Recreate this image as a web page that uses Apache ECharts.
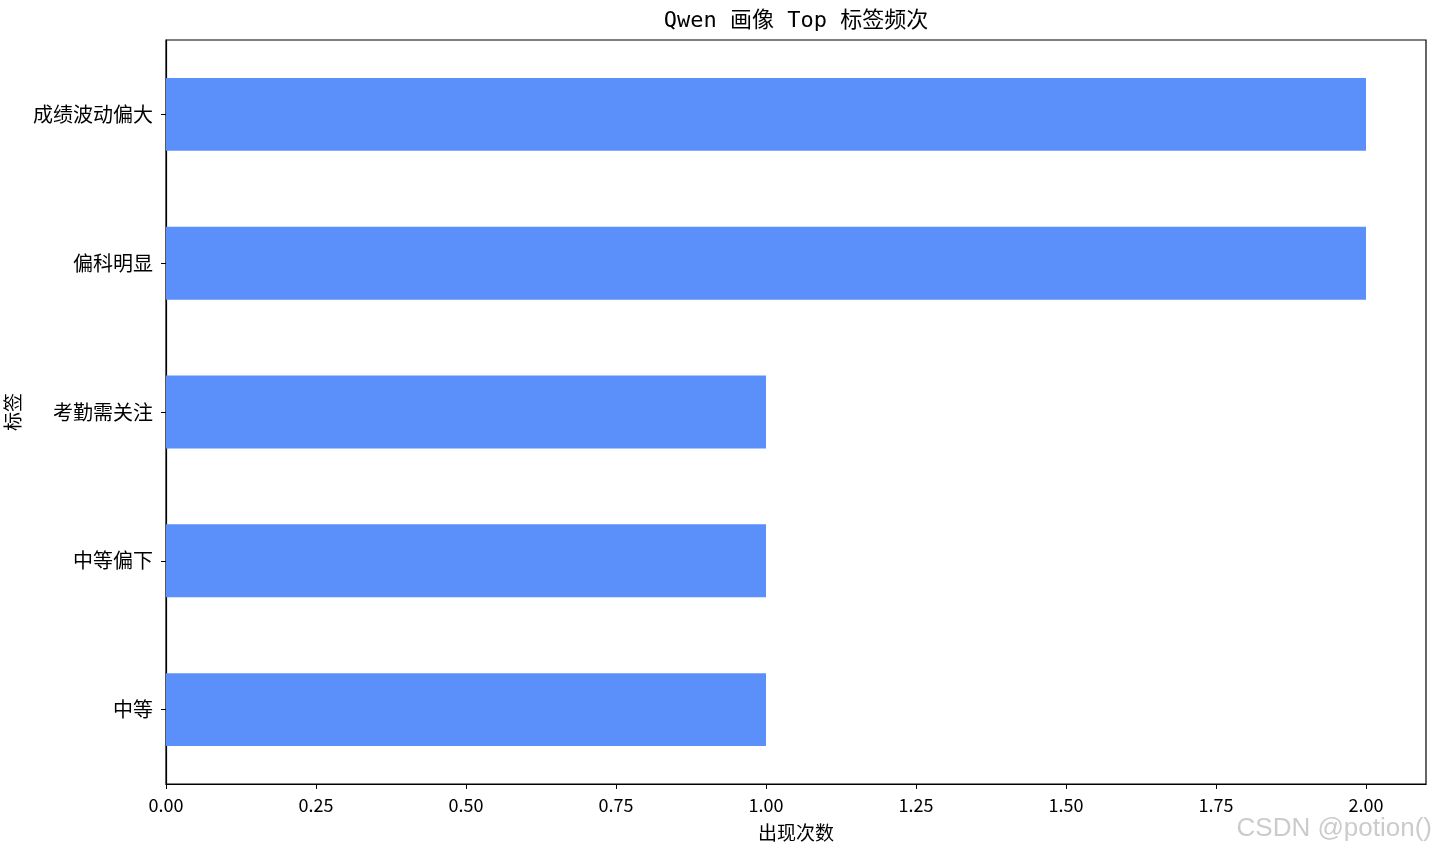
<!DOCTYPE html>
<html>
<head>
<meta charset="utf-8">
<script src="https://cdn.jsdelivr.net/npm/echarts@6/dist/echarts.min.js"></script>
<style>html,body{margin:0;padding:0;background:#fff}#c{width:1435px;height:854px}</style>
</head>
<body>
<div id="c"></div>
<script>
const categories = ['成绩波动偏大', '偏科明显', '考勤需关注', '中等偏下', '中等'];
const counts = [2, 2, 1, 1, 1];
const xTicks = [0, 0.25, 0.5, 0.75, 1.0, 1.25, 1.5, 1.75, 2.0];
const titleText = 'Qwen 画像 Top 标签频次';
const xName = '出现次数';
const yName = '标签';
const watermark = 'CSDN @potion()';

const FONT = "'Noto Sans CJK SC', 'Noto Sans', sans-serif";
const chart = echarts.init(document.getElementById('c'));
chart.setOption({
  animation: false,
  backgroundColor: '#fff',
  title: {
    text: titleText,
    left: 791, top: 5, textAlign: 'center',
    textStyle: { fontFamily: "'DejaVu Sans Mono', 'Noto Sans CJK SC', monospace", fontSize: 22, fontWeight: 'normal', color: '#000' }
  },
  grid: { left: 166, right: 9, top: 40, bottom: 70, show: true, borderColor: '#000', borderWidth: 1.2, containLabel: false, outerBoundsMode: 'none' },
  xAxis: {
    type: 'value', min: 0, max: 2.1, interval: 0.25,
    name: xName, nameLocation: 'middle', nameGap: 39,
    nameTextStyle: { fontFamily: FONT, fontSize: 19, color: '#000' },
    axisLine: { show: true, lineStyle: { color: '#000', width: 1.2 } },
    axisTick: { show: true, length: 5, lineStyle: { color: '#000', width: 1 }, customValues: xTicks },
    axisLabel: {
      color: '#000', fontFamily: FONT, fontSize: 18, margin: 12,
      customValues: xTicks,
      formatter: v => v.toFixed(2)
    },
    splitLine: { show: false }
  },
  yAxis: {
    type: 'category', data: categories, inverse: true,
    name: yName, nameLocation: 'middle', nameGap: 143, nameRotate: 90,
    nameTextStyle: { fontFamily: FONT, fontSize: 19, color: '#000' },
    axisLine: { show: true, lineStyle: { color: '#000', width: 1.2 } },
    axisTick: { show: true, length: 5, alignWithLabel: true, lineStyle: { color: '#000', width: 1 } },
    axisLabel: { color: '#000', fontFamily: FONT, fontSize: 20, margin: 13 },
    splitLine: { show: false }
  },
  series: [{
    type: 'bar', data: counts, barWidth: '49%',
    itemStyle: { color: '#5B8FF9' }
  }],
  graphic: [{
    type: 'text', right: 3, top: 816,
    style: { text: watermark, fill: 'rgba(160,160,160,0.55)', font: "26px 'Liberation Sans', Arial, sans-serif" }
  }]
});
</script>
</body>
</html>
